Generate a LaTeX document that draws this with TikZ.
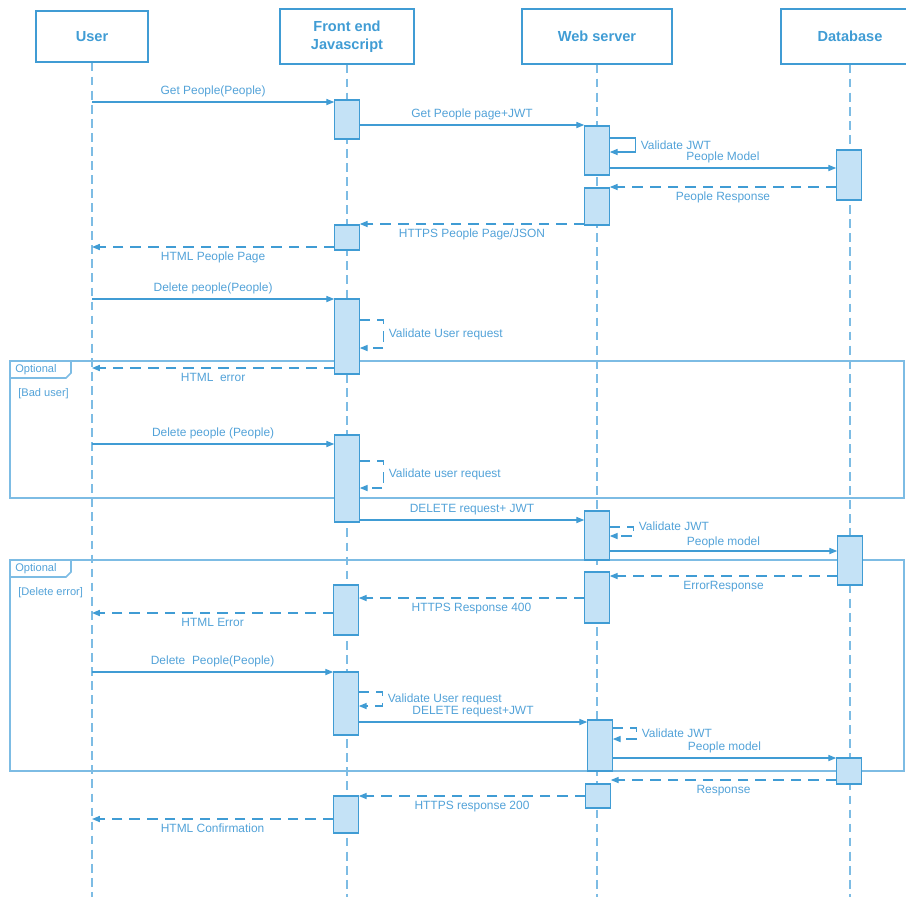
\documentclass[tikz,border=0pt]{standalone}
\usepackage{fontspec}
\setmainfont{Liberation Sans}
\usetikzlibrary{arrows.meta, positioning, calc}
\definecolor{seqblue}{RGB}{64,156,212}
\definecolor{seqtext}{RGB}{82,162,216}
\definecolor{actfill}{RGB}{196,226,246}
\definecolor{lifeblue}{RGB}{125,188,228}

\tikzset{
  actor/.style={draw=seqblue, line width=0.7pt, text=seqblue, font=\bfseries\fontsize{8.3}{10.5}\selectfont, align=center, inner sep=0pt},
  actbox/.style={draw=seqblue, fill=actfill, line width=0.6pt, minimum width=0.49cm, inner sep=0pt},
  lifeline/.style={draw=lifeblue, line width=0.6pt, dash pattern=on 5pt off 3pt},
  msg/.style={draw=seqblue, line width=0.7pt, -{Triangle[length=4.5pt,width=3.5pt]}},
  reply/.style={msg, dash pattern=on 6pt off 4pt},
  lbl/.style={text=seqtext, font=\fontsize{6.8}{8}\selectfont, inner sep=2.5pt},
  framebox/.style={draw=lifeblue, line width=0.9pt},
  framelbl/.style={text=seqtext, font=\fontsize{6.3}{7.5}\selectfont, inner sep=0pt, anchor=west},
}

% activation bar: name, x, top, bottom (pixels)
\newcommand{\activation}[4]{\node[actbox, minimum height={(#4-#3)*0.5691pt}] (#1) at (#2,{(#3+#4)/2}) {};}

\begin{document}
\begin{tikzpicture}[x=0.02cm, y=-0.02cm]
  \useasboundingbox (0,0) rectangle (906,897);
  \clip (0,0) rectangle (906,897);

  % participants
  \node[actor, minimum width=2.24cm, minimum height=1.02cm] (user) at (92,36.5) {User};
  \node[actor, minimum width=2.68cm, minimum height=1.1cm] (front) at (347,36.5) {Front end\\Javascript};
  \node[actor, minimum width=3cm, minimum height=1.1cm] (web) at (597,36.5) {Web server};
  \node[actor, minimum width=2.76cm, minimum height=1.1cm] (db) at (850,36.5) {Database};

  % rows of the messages
  \coordinate (bottom) at (0,897);
  \foreach \n/\y in {r1/102, r2/125, r3/138, r3b/152, r4/168, r5/187, r6/224, r7/247,
                     r8/299, r9/320, r9b/348, r10/368, r11/444, r12/461, r12b/488, r13/520,
                     r14/527, r14b/536, r15/551, r16/576, r17/598, r18/613, r19/672, r20/692,
                     r20b/706, r21/722, r22/728, r22b/739, r23/758, r24/780, r25/796, r26/819}
    \coordinate (\n) at (0,\y);

  % optional frames
  \draw[framebox] (10,361) rectangle (904,498);
  \draw[framebox] (10,378) -- (66,378) -- (71,373) -- (71,361);
  \node[framelbl] (opt1) at (15,369.5) {Optional};
  \node[framelbl] (bad) at (18,393.5) {[Bad user]};

  \draw[framebox] (10,560) rectangle (904,771);
  \draw[framebox] (10,577) -- (66,577) -- (71,572) -- (71,560);
  \node[framelbl] (opt2) at (15,568.5) {Optional};
  \node[framelbl] (delerr) at (18,593) {[Delete error]};

  % lifelines
  \foreach \p in {user, front, web, db}
    \draw[lifeline] (\p.south) -- (\p.south |- bottom);

  % activations
  \activation{fe1}{347}{100}{139}
  \activation{ws1}{597}{126}{175}
  \activation{db1}{849}{150}{200}
  \activation{ws2}{597}{188}{225}
  \activation{fe2}{347}{225}{250}
  \activation{fe3}{347}{299}{374}
  \activation{fe4}{347}{435}{522}
  \activation{ws3}{597}{511}{560}
  \activation{db2}{850}{536}{585}
  \activation{ws4}{597}{572}{623}
  \activation{fe5}{346}{585}{635}
  \activation{fe6}{346}{672}{735}
  \activation{ws5}{600}{720}{771}
  \activation{db3}{849}{758}{784}
  \activation{ws6}{598}{784}{808}
  \activation{fe7}{346}{796}{833}

  % get people
  \draw[msg] (user |- r1) -- (fe1.west |- r1) node[lbl, midway, above] {Get People(People)};
  \draw[msg] (fe1.east |- r2) -- (ws1.west |- r2) node[lbl, midway, above] {Get People page+JWT};
  \draw[msg] (ws1.east |- r3) -- ++(26,0) |- node[lbl, pos=0.25, right=0pt] {Validate JWT} (ws1.east |- r3b);
  \draw[msg] (ws1.east |- r4) -- (db1.west |- r4) node[lbl, midway, above] {People Model};
  \draw[reply] (db1.west |- r5) -- (ws2.east |- r5) node[lbl, midway, below] {People Response};
  \draw[reply] (ws2.west |- r6) -- (fe2.east |- r6) node[lbl, midway, below] {HTTPS People Page/JSON};
  \draw[reply] (fe2.west |- r7) -- (user |- r7) node[lbl, midway, below] {HTML People Page};

  % delete people, bad user
  \draw[msg] (user |- r8) -- (fe3.west |- r8) node[lbl, midway, above] {Delete people(People)};
  \draw[reply] (fe3.east |- r9) -- ++(24,0) |- node[lbl, pos=0.25, right=0pt] {Validate User request} (fe3.east |- r9b);
  \draw[reply] (fe3.west |- r10) -- (user |- r10) node[lbl, midway, below] {HTML\ \ error};

  % delete people, delete error
  \draw[msg] (user |- r11) -- (fe4.west |- r11) node[lbl, midway, above] {Delete people (People)};
  \draw[reply] (fe4.east |- r12) -- ++(24,0) |- node[lbl, pos=0.25, right=0pt] {Validate user request} (fe4.east |- r12b);
  \draw[msg] (fe4.east |- r13) -- (ws3.west |- r13) node[lbl, midway, above] {DELETE request+ JWT};
  \draw[reply] (ws3.east |- r14) -- ++(24,0) |- node[lbl, pos=0.25, right=0pt, yshift=3pt] {Validate JWT} (ws3.east |- r14b);
  \draw[msg] (ws3.east |- r15) -- (db2.west |- r15) node[lbl, midway, above, inner sep=1.5pt] {People model};
  \draw[reply] (db2.west |- r16) -- (ws4.east |- r16) node[lbl, midway, below] {ErrorResponse};
  \draw[reply] (ws4.west |- r17) -- (fe5.east |- r17) node[lbl, midway, below] {HTTPS Response 400};
  \draw[reply] (fe5.west |- r18) -- (user |- r18) node[lbl, midway, below] {HTML Error};

  % delete people, success
  \draw[msg] (user |- r19) -- (fe6.west |- r19) node[lbl, midway, above] {Delete\ \ People(People)};
  \draw[reply] (fe6.east |- r20) -- ++(24,0) |- node[lbl, pos=0.25, right=0pt] {Validate User request} (fe6.east |- r20b);
  \draw[msg] (fe6.east |- r21) -- (ws5.west |- r21) node[lbl, midway, above] {DELETE request+JWT};
  \draw[reply] (ws5.east |- r22) -- ++(24,0) |- node[lbl, pos=0.25, right=0pt] {Validate JWT} (ws5.east |- r22b);
  \draw[msg] (ws5.east |- r23) -- (db3.west |- r23) node[lbl, midway, above] {People model};
  \draw[reply] (db3.west |- r24) -- (ws6.east |- r24) node[lbl, midway, below] {Response};
  \draw[reply] (ws6.west |- r25) -- (fe7.east |- r25) node[lbl, midway, below] {HTTPS response 200};
  \draw[reply] (fe7.west |- r26) -- (user |- r26) node[lbl, midway, below] {HTML Confirmation};
\end{tikzpicture}
\end{document}
